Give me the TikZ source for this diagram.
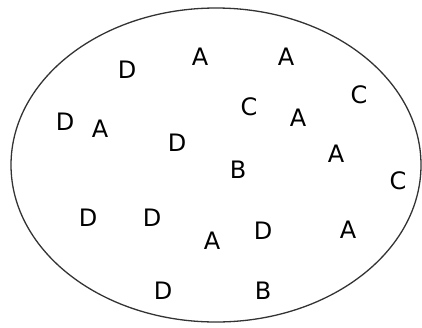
\documentclass[tikz,border=0pt]{standalone}
\usepackage{fontspec}
\setmainfont{DejaVu Sans}
\usetikzlibrary{shapes.geometric}

\tikzset{elem/.style={inner sep=0pt, font=\fontsize{24}{24}\selectfont}}

\begin{document}
\begin{tikzpicture}[x=1pt, y=-1pt]
  \useasboundingbox (0,0) rectangle (422,327);
  \node[draw=black!80, line width=1.3pt, ellipse, minimum width=410pt, minimum height=314pt, inner sep=0pt] (set) at (216,165) {};
  % row by row, top to bottom
  \node[elem] (d1) at (127,70) {D};
  \node[elem] (a1) at (200,57) {A};
  \node[elem] (a2) at (286,57) {A};
  \node[elem] (c1) at (359,95) {C};
  \node[elem] (d2) at (65,122) {D};
  \node[elem] (a3) at (100,129) {A};
  \node[elem] (c2) at (249,107) {C};
  \node[elem] (a4) at (298,118) {A};
  \node[elem] (d3) at (177,143) {D};
  \node[elem] (b1) at (238,170) {B};
  \node[elem] (a5) at (336,154) {A};
  \node[elem] (c3) at (398,181) {C};
  \node[elem] (d4) at (88,218) {D};
  \node[elem] (d5) at (152,218) {D};
  \node[elem] (a6) at (212,241) {A};
  \node[elem] (d6) at (263,231) {D};
  \node[elem] (a7) at (348,230) {A};
  \node[elem] (d7) at (163,291) {D};
  \node[elem] (b2) at (263,291) {B};
\end{tikzpicture}
\end{document}
